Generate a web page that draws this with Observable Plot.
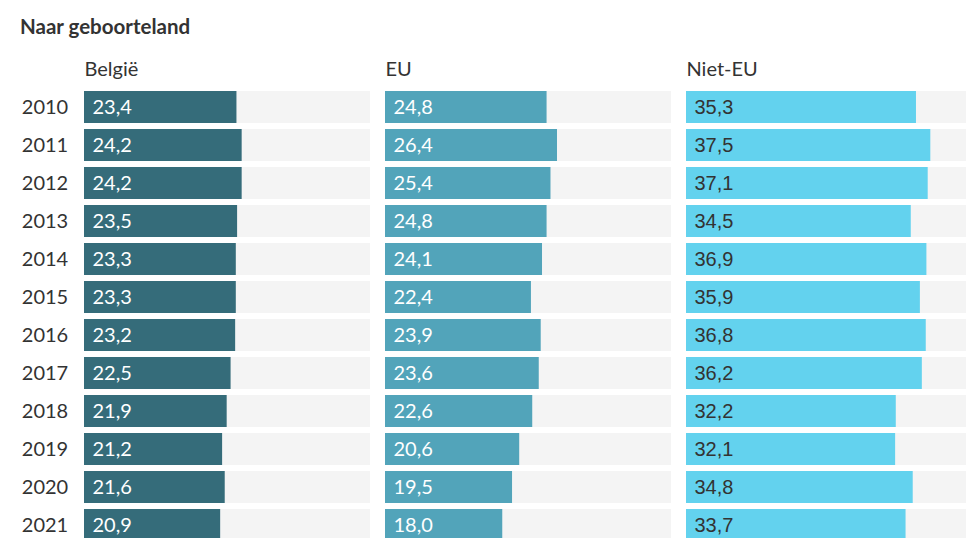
<!DOCTYPE html>
<html>
<head>
<meta charset="utf-8">
<script src="https://cdn.jsdelivr.net/npm/d3@7"></script>
<script src="https://cdn.jsdelivr.net/npm/@observablehq/plot@0.6"></script>
<style>
  html, body { margin: 0; padding: 0; background: #fff; overflow: hidden; }
  #title { font-family: Lato, sans-serif; font-weight: 700; font-size: 20.5px; color: #333;
           padding: 14px 0 0 20px; line-height: 25px; height: 26px; }
</style>
</head>
<body>
<div id="title">Naar geboorteland</div>
<div id="chart"></div>
<script>
const years = ["2010","2011","2012","2013","2014","2015","2016","2017","2018","2019","2020","2021"];
const groups = ["België", "EU", "Niet-EU"];
const belgie = [23.4, 24.2, 24.2, 23.5, 23.3, 23.3, 23.2, 22.5, 21.9, 21.2, 21.6, 20.9];
const eu     = [24.8, 26.4, 25.4, 24.8, 24.1, 22.4, 23.9, 23.6, 22.6, 20.6, 19.5, 18.0];
const nietEu = [35.3, 37.5, 37.1, 34.5, 36.9, 35.9, 36.8, 36.2, 32.2, 32.1, 34.8, 33.7];
const colors = ["#356c7a", "#52a4ba", "#63d2ee"];
const xMax = 43.9;

const series = [belgie, eu, nietEu];
const rows = groups.flatMap((g, gi) => years.map((y, i) => ({group: g, year: y, value: series[gi][i]})));
const fmt = v => v.toFixed(1).replace(".", ",");

const chart = Plot.plot({
  width: 973,
  height: 507,
  marginLeft: 83,
  marginRight: 0,
  marginTop: 45.5,
  marginBottom: 0,
  style: {fontFamily: "Lato, sans-serif", fontSize: "20px", color: "#333", maxWidth: "none", overflow: "visible"},
  fx: {domain: groups, paddingInner: 0.0507, paddingOuter: 0, axis: null, label: null},
  x: {domain: [0, xMax], axis: null},
  y: {domain: years, paddingInner: 0.15, paddingOuter: 0.075, align: 0.5, tickSize: 0, tickPadding: 16.3, label: null},
  color: {domain: groups, range: colors},
  marks: [
    Plot.barX(rows, {x1: 0, x2: xMax, y: "year", fx: "group", fill: "#f4f4f4"}),
    Plot.barX(rows, {x: "value", y: "year", fx: "group", fill: "group"}),
    Plot.text(rows, {filter: d => d.group !== "Niet-EU", x: 0, y: "year", fx: "group", text: d => fmt(d.value),
      textAnchor: "start", dx: 8, fill: "white"}),
    Plot.text(rows, {filter: d => d.group === "Niet-EU", x: 0, y: "year", fx: "group", text: d => fmt(d.value),
      textAnchor: "start", dx: 8, fill: "#333", fontFamily: "'Liberation Sans', Arial, sans-serif"}),
    Plot.text(groups, {fx: d => d, text: d => d, frameAnchor: "top-left", textAnchor: "start",
      lineAnchor: "bottom", dy: -10, fill: "#333"})
  ]
});
document.getElementById("chart").appendChild(chart);
</script>
</body>
</html>
